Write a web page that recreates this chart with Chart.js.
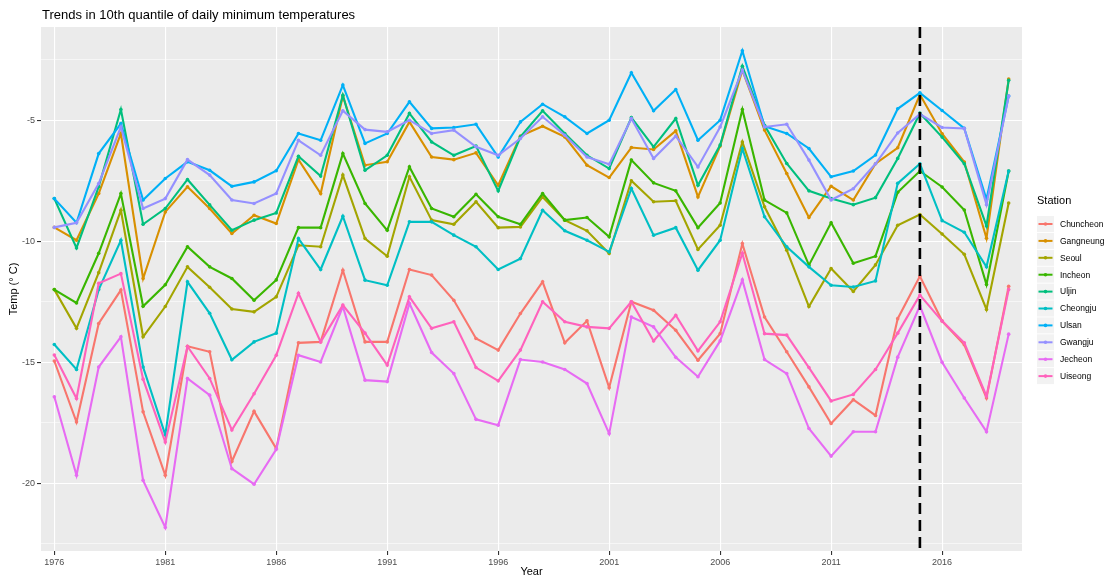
<!DOCTYPE html>
<html><head><meta charset="utf-8">
<script src="https://cdn.jsdelivr.net/npm/chart.js@4.4.1/dist/chart.umd.min.js"></script>
<style>html,body{margin:0;padding:0;background:#fff;}canvas{display:block;}</style>
</head><body>
<canvas id="c" width="1107" height="577"></canvas>
<script>
const years = [1976,1977,1978,1979,1980,1981,1982,1983,1984,1985,1986,1987,1988,1989,1990,1991,1992,1993,1994,1995,1996,1997,1998,1999,2000,2001,2002,2003,2004,2005,2006,2007,2008,2009,2010,2011,2012,2013,2014,2015,2016,2017,2018,2019];
const stations = ['Chuncheon','Gangneung','Seoul','Incheon','Uljin','Cheongju','Ulsan','Gwangju','Jecheon','Uiseong'];
const colors = ['#F8766D','#D89000','#A3A500','#39B600','#00BF7D','#00BFC4','#00B0F6','#9590FF','#E76BF3','#FF62BC'];

const chuncheon = [-14.95,-17.47,-13.4,-12.02,-17.05,-19.67,-14.34,-14.57,-19.1,-17.03,-18.57,-14.2,-14.16,-11.2,-14.16,-14.16,-11.17,-11.4,-12.44,-14.02,-14.5,-12.99,-11.68,-14.2,-13.29,-16.05,-12.5,-12.85,-13.68,-14.92,-13.82,-10.1,-13.13,-14.57,-16.02,-17.53,-16.55,-17.2,-13.2,-11.45,-13.3,-14.28,-16.48,-11.86];
const gangneung = [-9.43,-9.96,-8.03,-5.55,-11.54,-8.79,-7.75,-8.65,-9.68,-8.93,-9.27,-6.63,-8.03,-4.0,-6.86,-6.72,-5.07,-6.52,-6.63,-6.35,-7.69,-5.66,-5.25,-5.69,-6.86,-7.37,-6.13,-6.21,-5.44,-8.17,-6.07,-2.93,-5.41,-7.2,-9.02,-7.73,-8.3,-6.8,-6.14,-3.94,-5.56,-6.73,-9.88,-3.3];
const seoul = [-12.0,-13.6,-11.3,-8.72,-13.95,-12.7,-11.06,-11.9,-12.8,-12.92,-12.3,-10.17,-10.23,-7.27,-9.89,-10.62,-7.34,-9.13,-9.3,-8.37,-9.44,-9.41,-8.17,-9.13,-9.57,-10.51,-7.5,-8.37,-8.33,-10.34,-9.34,-5.9,-8.58,-10.37,-12.7,-11.13,-12.08,-10.98,-9.34,-8.9,-9.7,-10.54,-12.82,-8.42];
const incheon = [-12.0,-12.55,-10.5,-8.03,-12.69,-11.8,-10.23,-11.06,-11.54,-12.44,-11.6,-9.44,-9.44,-6.38,-8.44,-9.55,-6.93,-8.65,-8.99,-8.06,-8.99,-9.3,-8.03,-9.13,-9.02,-9.82,-6.65,-7.59,-7.92,-9.44,-8.42,-4.56,-8.3,-8.83,-10.99,-9.24,-10.91,-10.62,-7.98,-7.1,-7.76,-8.71,-11.79,-7.1];
const uljin = [-8.24,-10.28,-7.75,-4.56,-9.3,-8.65,-7.45,-8.5,-9.55,-9.13,-8.83,-6.49,-7.31,-3.97,-7.07,-6.45,-4.72,-5.9,-6.45,-6.07,-7.92,-5.69,-4.61,-5.55,-6.45,-7.0,-4.89,-6.1,-4.93,-7.69,-6.03,-2.77,-5.21,-6.79,-7.92,-8.24,-8.49,-8.2,-6.58,-4.71,-5.7,-6.8,-9.37,-3.35];
const cheongju = [-14.27,-15.3,-12.0,-9.96,-15.2,-18.0,-11.68,-12.98,-14.9,-14.16,-13.8,-9.89,-11.17,-8.97,-11.61,-11.82,-9.2,-9.2,-9.75,-10.23,-11.17,-10.72,-8.72,-9.57,-9.96,-10.44,-7.82,-9.75,-9.44,-11.2,-9.96,-6.17,-8.99,-10.23,-11.06,-11.82,-11.89,-11.64,-7.61,-6.8,-9.15,-9.63,-11.06,-7.1];
const ulsan = [-8.24,-9.24,-6.38,-5.14,-8.3,-7.41,-6.72,-7.07,-7.73,-7.55,-7.09,-5.55,-5.83,-3.55,-5.96,-5.55,-4.24,-5.34,-5.3,-5.17,-6.52,-5.07,-4.34,-4.86,-5.55,-5.0,-3.04,-4.61,-3.73,-5.83,-5.0,-2.13,-5.25,-5.55,-6.17,-7.34,-7.1,-6.44,-4.53,-3.87,-4.6,-5.34,-8.27,-4.0];
const gwangju = [-9.43,-9.24,-7.62,-5.28,-8.65,-8.24,-6.63,-7.27,-8.3,-8.44,-8.03,-5.83,-6.45,-4.61,-5.39,-5.48,-5.0,-5.55,-5.41,-6.1,-6.45,-5.76,-4.86,-5.62,-6.52,-6.82,-4.93,-6.58,-5.66,-6.93,-5.28,-2.93,-5.28,-5.17,-6.65,-8.3,-7.83,-6.8,-5.53,-4.75,-5.3,-5.34,-8.49,-4.0];
const jecheon = [-16.43,-19.67,-15.2,-13.95,-19.88,-21.83,-15.67,-16.36,-19.4,-20.04,-18.6,-14.71,-14.99,-12.7,-15.74,-15.8,-12.57,-14.6,-15.47,-17.36,-17.6,-14.89,-14.99,-15.3,-15.88,-17.95,-13.13,-13.54,-14.8,-15.6,-14.12,-11.6,-14.89,-15.47,-17.74,-18.88,-17.87,-17.87,-14.79,-12.67,-15.0,-16.48,-17.87,-13.84];
const uiseong = [-14.7,-16.5,-11.74,-11.34,-15.7,-18.3,-14.35,-15.67,-17.8,-16.3,-14.71,-12.15,-14.16,-12.64,-13.8,-15.12,-12.3,-13.6,-13.33,-15.22,-15.77,-14.5,-12.5,-13.33,-13.54,-13.6,-12.5,-14.12,-13.06,-14.53,-13.33,-10.5,-13.82,-13.88,-15.22,-16.6,-16.33,-15.3,-13.8,-12.23,-13.3,-14.2,-16.4,-12.0];

const seriesValues = [chuncheon,gangneung,seoul,incheon,uljin,cheongju,ulsan,gwangju,jecheon,uiseong];
const xTickYears = [1976,1981,1986,1991,1996,2001,2006,2011,2016];
const yTickValues = [-5,-10,-15,-20];
const yMinorValues = [-2.5,-7.5,-12.5,-17.5,-22.5];
const markerYear = 2015;

const FONT = '"Liberation Sans", Arial, Helvetica, sans-serif';
Chart.defaults.font.family = FONT;

const datasets = stations.map((name, i) => ({
  label: name,
  data: years.map((yr, j) => ({x: yr, y: seriesValues[i][j]})),
  borderColor: colors[i],
  backgroundColor: colors[i],
  pointBackgroundColor: colors[i],
  pointBorderWidth: 0,
  pointRadius: 1.8,
  borderWidth: 2.1,
  tension: 0,
  fill: false,
  order: stations.length - i
}));

const decor = {
  id: 'decor',
  beforeDraw(chart) {
    const {ctx, chartArea: a} = chart;
    ctx.save();
    ctx.fillStyle = '#EBEBEB';
    ctx.fillRect(a.left, a.top, a.right - a.left, a.bottom - a.top);
    ctx.restore();
  },
  afterDatasetsDraw(chart) {
    const {ctx, chartArea: a, scales} = chart;
    const x = scales.x.getPixelForValue(markerYear);
    ctx.save();
    ctx.strokeStyle = '#000';
    ctx.lineWidth = 2.6;
    ctx.setLineDash([11, 6]);
    ctx.beginPath();
    ctx.moveTo(x, a.top);
    ctx.lineTo(x, a.bottom);
    ctx.stroke();
    ctx.restore();
  },
  afterDraw(chart) {
    const {ctx, chartArea: a} = chart;
    ctx.save();
    ctx.fillStyle = '#000';
    ctx.font = '13px ' + FONT;
    ctx.textAlign = 'left';
    ctx.textBaseline = 'middle';
    ctx.fillText('Trends in 10th quantile of daily minimum temperatures', 42, 15);
    ctx.font = '11px ' + FONT;
    ctx.textAlign = 'center';
    ctx.fillText('Year', (a.left + a.right) / 2, 572);
    ctx.save();
    ctx.translate(14, (a.top + a.bottom) / 2);
    ctx.rotate(-Math.PI / 2);
    ctx.fillText('Temp (\u00B0 C)', 0, 0);
    ctx.restore();
    // legend
    ctx.textAlign = 'left';
    ctx.font = '11px ' + FONT;
    ctx.fillText('Station', 1037, 201);
    ctx.font = '8.5px ' + FONT;
    stations.forEach((name, i) => {
      const cy = 224 + 16.9 * i;
      ctx.fillStyle = '#F2F2F2';
      ctx.fillRect(1037, cy - 8, 17, 16);
      ctx.strokeStyle = colors[i];
      ctx.lineWidth = 2;
      ctx.beginPath();
      ctx.moveTo(1038.5, cy);
      ctx.lineTo(1052.5, cy);
      ctx.stroke();
      ctx.fillStyle = colors[i];
      ctx.beginPath();
      ctx.arc(1045.5, cy, 1.8, 0, Math.PI * 2);
      ctx.fill();
      ctx.fillStyle = '#000';
      ctx.fillText(name, 1060, cy + 0.5);
    });
    ctx.restore();
  }
};

new Chart(document.getElementById('c'), {
  type: 'line',
  data: {datasets},
  options: {
    responsive: false,
    animation: false,
    devicePixelRatio: 1,
    layout: {padding: {left: 0, top: 27, right: 85, bottom: 0}},
    plugins: {legend: {display: false}, title: {display: false}, tooltip: {enabled: false}},
    scales: {
      x: {
        type: 'linear', min: 1975.4, max: 2019.6,
        afterBuildTicks: s => { s.ticks = xTickYears.map(v => ({value: v})); },
        afterFit: s => { s.height = 26; },
        ticks: {autoSkip: false, maxRotation: 0, color: '#4D4D4D', font: {size: 9}, padding: 2, callback: v => String(v)},
        grid: {color: '#FFFFFF', lineWidth: 1.1, tickColor: '#333333', tickLength: 4, drawTicks: true},
        border: {display: false}
      },
      y: {
        type: 'linear', min: -22.8, max: -1.15,
        afterBuildTicks: s => { s.ticks = yMinorValues.concat(yTickValues).sort((p, q) => p - q).map(v => ({value: v})); },
        afterFit: s => { s.width = 41; },
        ticks: {autoSkip: false, color: '#4D4D4D', font: {size: 9}, padding: 2, callback: v => yTickValues.includes(v) ? String(v) : ''},
        grid: {
          color: '#FFFFFF',
          lineWidth: c => (c.tick && yTickValues.includes(c.tick.value)) ? 1.1 : 0.55,
          tickColor: c => (c.tick && yTickValues.includes(c.tick.value)) ? '#333333' : 'rgba(0,0,0,0)',
          tickLength: 4, drawTicks: true
        },
        border: {display: false}
      }
    }
  },
  plugins: [decor]
});
</script>
</body></html>
